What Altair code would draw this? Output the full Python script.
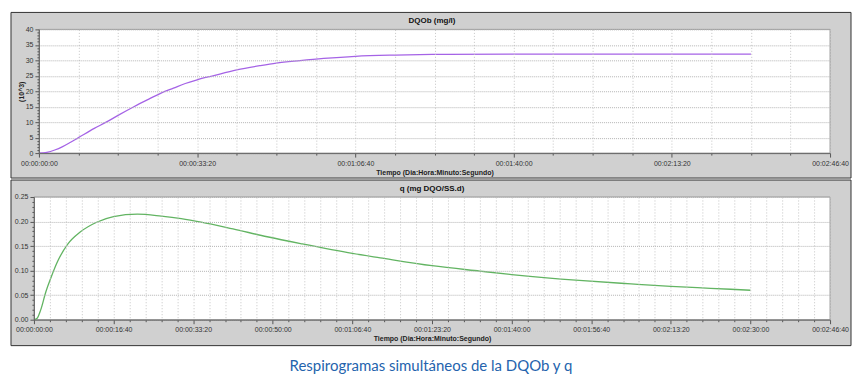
import altair as alt
import pandas as pd

# ---- data ----
t_dqo = [0, 100, 200, 300, 400, 500, 700, 850, 1000, 1200, 1400, 1550, 1700, 1850, 2000,
         2200, 2500, 2800, 3000, 3300, 3600, 4000, 4500, 5000, 6000, 7000, 8000, 9000]
v_dqo = [0, 0.25, 1.0, 2.1, 3.5, 5.0, 8.0, 10.0, 12.2, 15.0, 17.6, 19.5, 21.0, 22.5, 23.7,
         25.0, 26.9, 28.3, 29.1, 29.9, 30.6, 31.3, 31.7, 31.9, 32.0, 32.0, 32.0, 32.0]

t_q = [0, 40, 85, 150, 210, 295, 420, 585, 795, 1000, 1300, 1600, 1850, 2100, 2500,
       2930, 3350, 4000, 4350, 5000, 5600, 6000, 6850, 7500, 8000, 8500, 9000]
v_q = [0, 0.003, 0.02, 0.057, 0.084, 0.118, 0.153, 0.179, 0.199, 0.210, 0.215, 0.211,
       0.206, 0.199, 0.185, 0.169, 0.155, 0.135, 0.126, 0.110, 0.099, 0.092, 0.080,
       0.073, 0.068, 0.064, 0.060]

top_x_ticks = list(range(0, 10001, 500))
bot_x_ticks = list(range(0, 10001, 200))
top_y_ticks = list(range(0, 41))
bot_y_ticks = [round(i * 0.01, 2) for i in range(26)]

title_top = "DQOb (mg/l)"
title_bot = "q (mg DQO/SS.d)"
x_title = "Tiempo (Dia:Hora:Minuto:Segundo)"
y_title_top = "(10^3)"
caption = "Respirogramas simultáneos de la DQOb y q"

df_top = pd.DataFrame({"t": t_dqo, "v": v_dqo})
df_bot = pd.DataFrame({"t": t_q, "v": v_q})

FONT = "Liberation Sans"
PANEL = "#d0d0d0"
W = 798
H_TOP = 124
H_BOT = 123

time_expr = ("pad(floor(datum.value/86400),2,'0','left')+':'+"
             "pad(floor(datum.value/3600)%24,2,'0','left')+':'+"
             "pad(floor(datum.value/60)%60,2,'0','left')+':'+"
             "pad(datum.value%60,2,'0','left')")


def x_axis(major, ticks):
    test = f"datum.value % {major} === 0"
    return alt.Axis(
        values=ticks, title=x_title, labelExpr=f"{test} ? {time_expr} : ''",
        labelFont=FONT, labelFontSize=7, labelColor="#333", labelFlush=False,
        labelPadding=2, labelOverlap=False,
        titleFont=FONT, titleFontSize=7, titleFontWeight="bold", titleColor="#222",
        titlePadding=2,
        tickSize={"condition": {"test": test, "value": 4}, "value": 2},
        tickColor="#555", domainColor="#666",
        grid=True, gridColor="#c4c4c4", gridDash=[1, 2], zindex=1,
    )


def bg_layers(h, px0, px1, top, title, title_y):
    dummy = alt.Data(values=[{"a": 1}])
    bg = alt.Chart(dummy).mark_rect(fill=PANEL, stroke="#333", strokeWidth=1).encode(
        x=alt.value(-23), x2=alt.value(819), y=alt.value(top), y2=alt.value(149))
    plot = alt.Chart(dummy).mark_rect(fill="white", stroke="#9a9a9a", strokeWidth=1).encode(
        x=alt.value(px0), x2=alt.value(px1), y=alt.value(0), y2=alt.value(h))
    ttl = alt.Chart(dummy).mark_text(font=FONT, fontSize=8, fontWeight="bold", color="#111",
                                     align="center", baseline="middle").encode(
        x=alt.value(W / 2), y=alt.value(title_y), text=alt.value(title))
    return bg, plot, ttl


# ---- top panel ----
xa_top = x_axis(2000, top_x_ticks)
ya_top = alt.Axis(
    values=top_y_ticks, title=y_title_top, offset=-5,
    labelExpr="datum.value % 5 === 0 ? datum.value : ''",
    labelFont=FONT, labelFontSize=7, labelColor="#333", labelPadding=2,
    titleFont=FONT, titleFontSize=7, titleFontWeight="bold", titleColor="#222",
    titlePadding=1,
    tickSize={"condition": {"test": "datum.value % 5 === 0", "value": 4}, "value": 2},
    tickColor="#555", domainColor="#666",
    grid=True, gridColor="#b4b4b4", gridDash=[1, 1],
    gridOpacity={"condition": {"test": "datum.value % 5 === 0", "value": 1}, "value": 0},
    zindex=1,
)
bg_t, plot_t, ttl_t = bg_layers(H_TOP, 5, W, -17, title_top, -8.5)
line_t = alt.Chart(df_top).mark_line(color="#a563e6", strokeWidth=1.3, interpolate="monotone").encode(
    x=alt.X("t:Q", scale=alt.Scale(domain=[0, 10000], range=[5, W], nice=False), axis=xa_top),
    y=alt.Y("v:Q", scale=alt.Scale(domain=[0, 40], nice=False), axis=ya_top),
)
top = alt.layer(bg_t, plot_t, ttl_t, line_t).properties(width=W, height=H_TOP)

# ---- bottom panel ----
xa_bot = x_axis(1000, bot_x_ticks)
major_q = "round(datum.value*100) % 5 === 0"
ya_bot = alt.Axis(
    values=bot_y_ticks, title=None,
    labelExpr=f"{major_q} ? format(datum.value, '.2f') : ''",
    labelFont=FONT, labelFontSize=7, labelColor="#333", labelPadding=2,
    tickSize={"condition": {"test": major_q, "value": 4}, "value": 2},
    tickColor="#555", domainColor="#666",
    grid=True, gridColor="#b4b4b4", gridDash=[1, 1],
    gridOpacity={"condition": {"test": major_q, "value": 1}, "value": 0},
    zindex=1,
)
bg_b, plot_b, ttl_b = bg_layers(H_BOT, 0, W, -17, title_bot, -8.5)
line_b = alt.Chart(df_bot).mark_line(color="#62b462", strokeWidth=1.3, interpolate="monotone").encode(
    x=alt.X("t:Q", scale=alt.Scale(domain=[0, 10000], nice=False), axis=xa_bot),
    y=alt.Y("v:Q", scale=alt.Scale(domain=[0, 0.25], nice=False), axis=ya_bot),
)
bottom = alt.layer(bg_b, plot_b, ttl_b, line_b).properties(width=W, height=H_BOT)

chart = alt.vconcat(top, bottom, spacing=0).resolve_scale(x="independent", y="independent").properties(
    title=alt.TitleParams(caption, orient="bottom", anchor="middle", font="Lato", fontSize=15,
                          fontWeight="normal", color="#2463ad", offset=13),
    padding={"left": 2, "top": 3, "right": 2, "bottom": 4},
    background="white",
).configure_view(stroke=None)

chart.save("out.html", embed_options={"renderer": "svg", "actions": False})
